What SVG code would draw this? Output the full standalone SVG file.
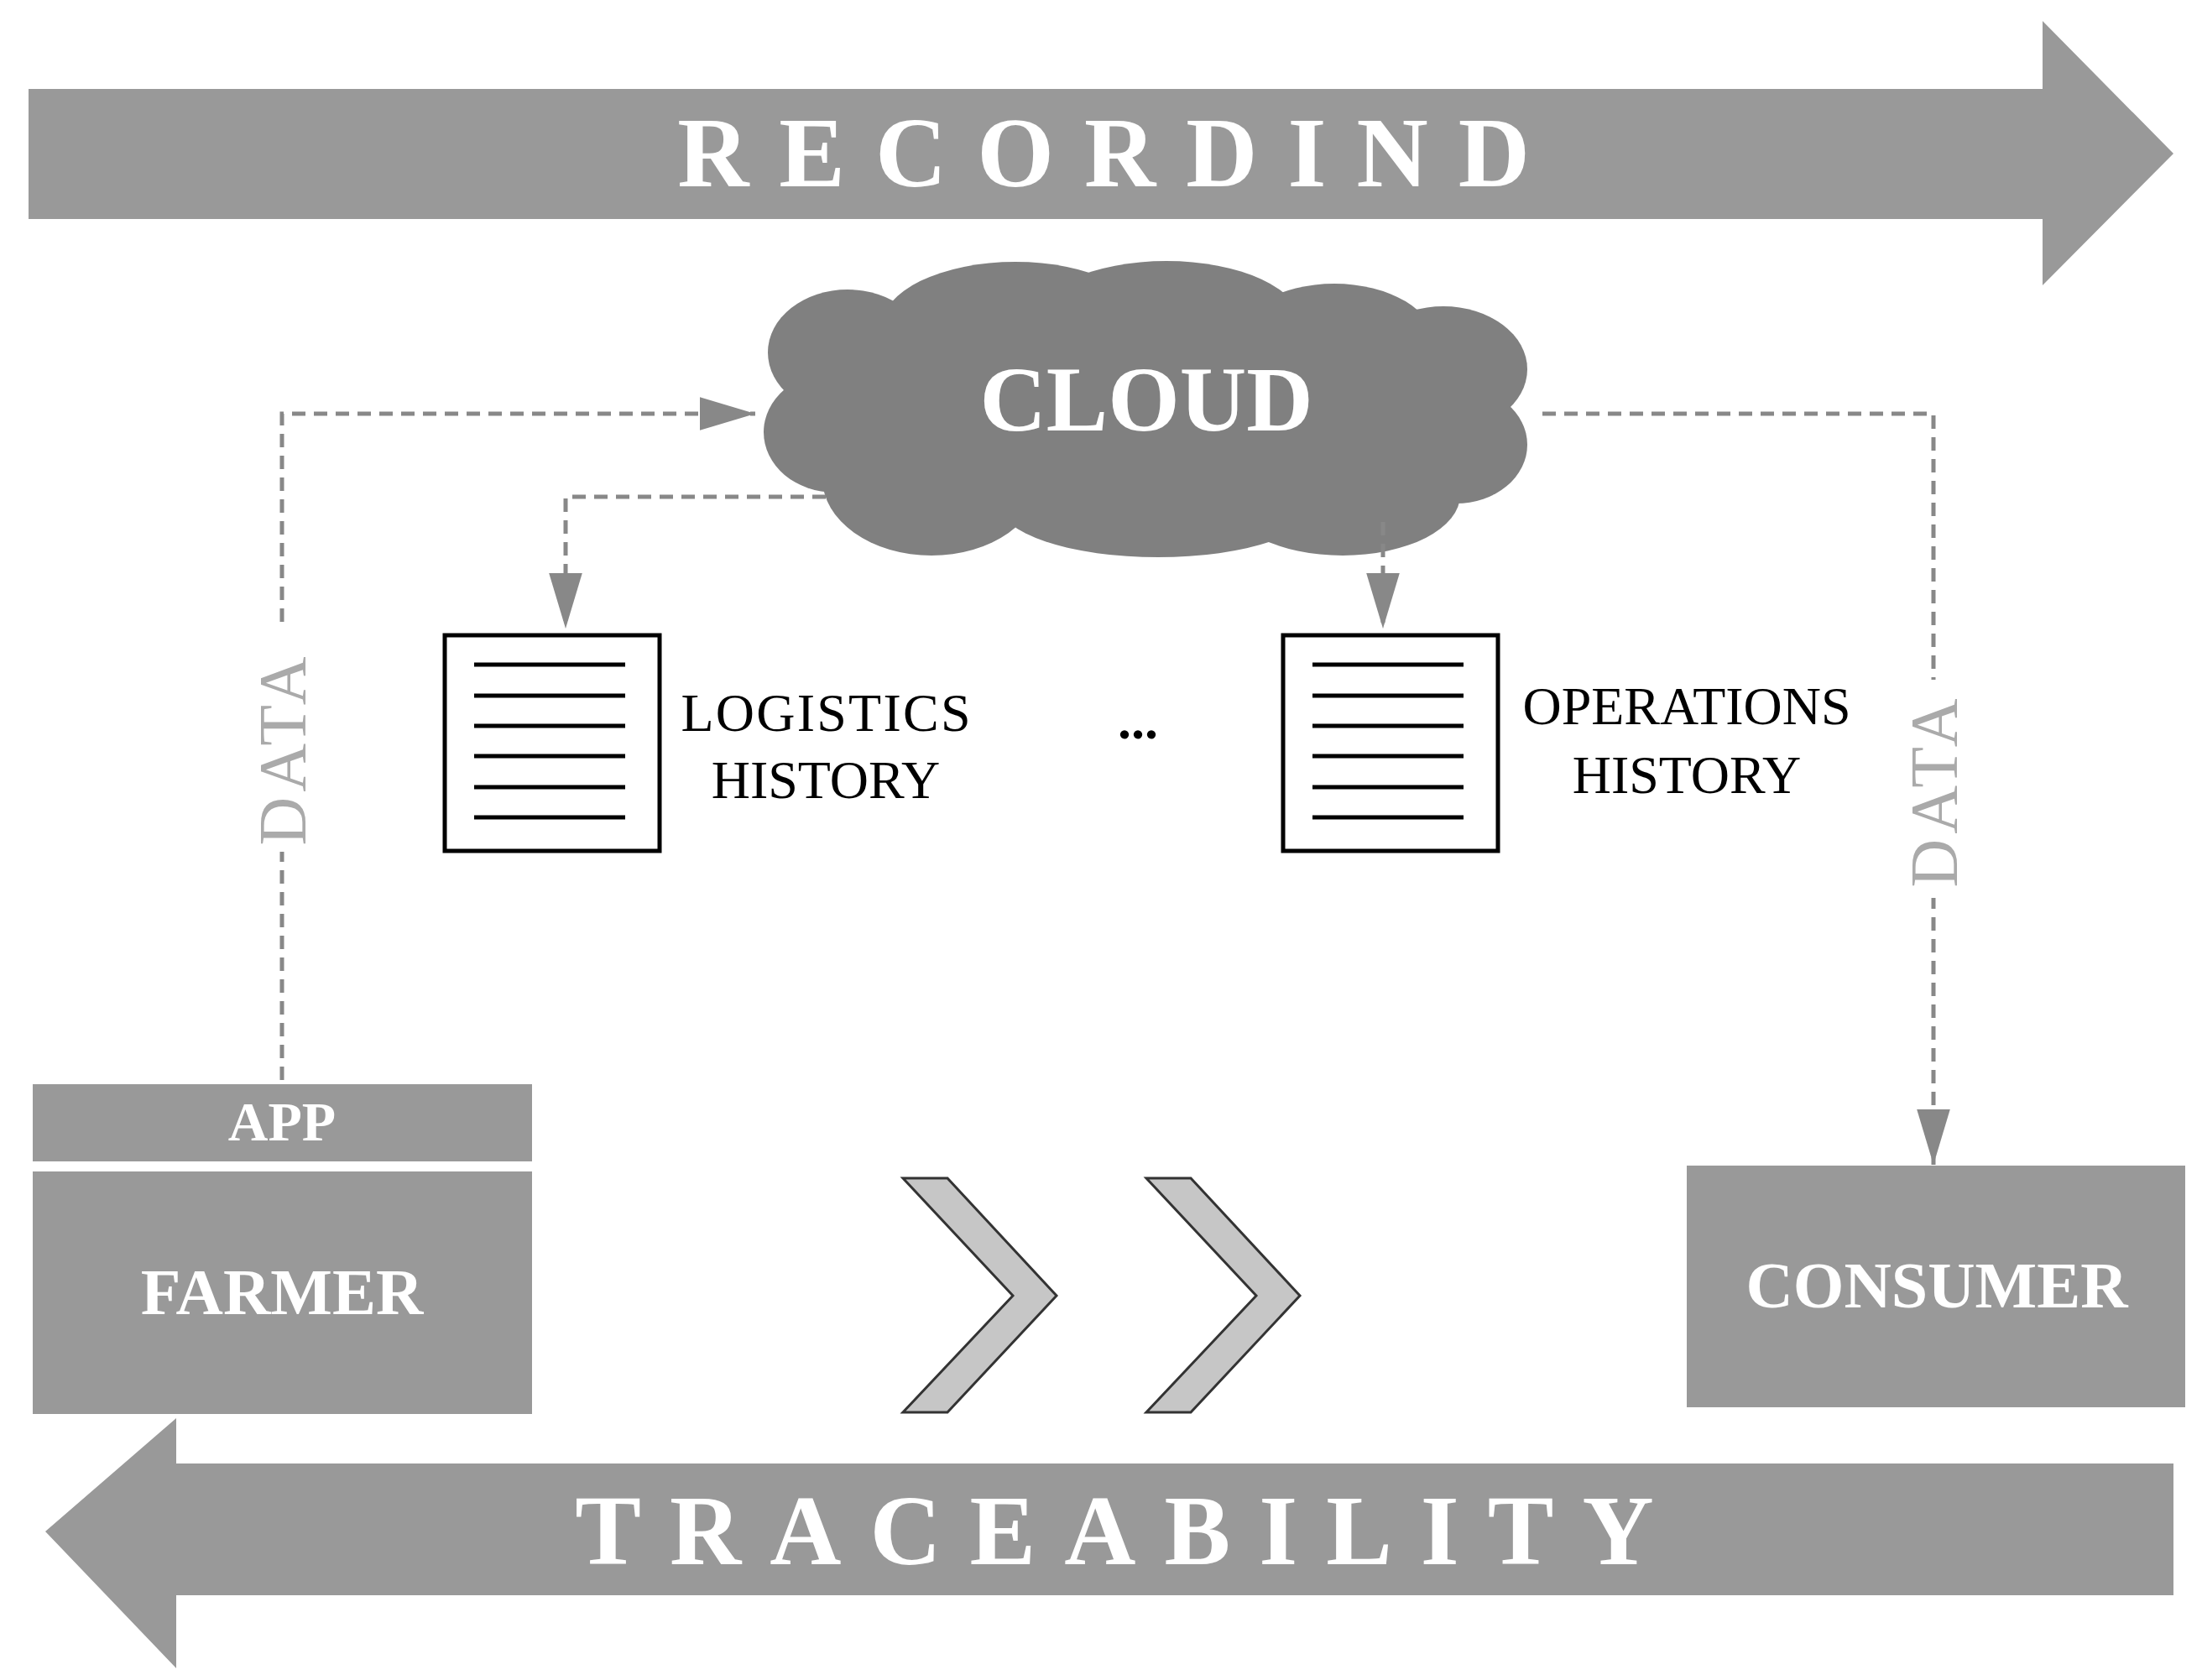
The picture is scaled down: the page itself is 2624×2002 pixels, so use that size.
<svg xmlns="http://www.w3.org/2000/svg" width="2624" height="2002" viewBox="0 0 2624 2002">
<defs>
<style>
.bar{fill:#999}
.wt{fill:#fff;font-family:"Liberation Serif",serif;font-weight:bold;text-anchor:middle}
.bk{fill:#000;font-family:"Liberation Serif",serif;text-anchor:middle;font-size:64px}
.dl{fill:none;stroke:#888;stroke-width:5;stroke-dasharray:16,10}
.data{fill:#aaa;font-family:"Liberation Serif",serif;font-size:80px;text-anchor:middle;letter-spacing:6px}
.doc{fill:#fff;stroke:#000;stroke-width:5}
.ln{stroke:#000;stroke-width:5}
.chev{fill:#c6c6c6;stroke:#333;stroke-width:3}
</style>
<marker id="a2" viewBox="0 0 10 10" refX="10" refY="5" markerWidth="66" markerHeight="66" markerUnits="userSpaceOnUse" orient="auto">
<path d="M0,2 L10,5 L0,8 Z" fill="#888"/>
</marker>
</defs>
<rect width="2624" height="2002" fill="#fff"/>
<g id="recording">
<path class="bar" d="M34,106 H2434 V25 L2590,183 L2434,340 V261 H34 Z"/>
<text class="wt" x="1333" y="222" font-size="118" letter-spacing="36">RECORDIND</text>
</g>
<g id="traceability">
<path class="bar" d="M2590,1744 H210 V1690 L54,1825 L210,1988 V1901 H2590 Z"/>
<text class="wt" x="1345" y="1864" font-size="118" letter-spacing="34">TRACEABILITY</text>
</g>
<g id="cloud" fill="#808080">
<ellipse cx="1010" cy="420" rx="95" ry="75"/>
<ellipse cx="995" cy="515" rx="85" ry="72"/>
<ellipse cx="1110" cy="570" rx="130" ry="92"/>
<ellipse cx="1210" cy="390" rx="160" ry="78"/>
<ellipse cx="1390" cy="385" rx="160" ry="74"/>
<ellipse cx="1590" cy="410" rx="120" ry="72"/>
<ellipse cx="1720" cy="440" rx="100" ry="75"/>
<ellipse cx="1735" cy="530" rx="85" ry="70"/>
<ellipse cx="1600" cy="590" rx="140" ry="72"/>
<ellipse cx="1380" cy="600" rx="190" ry="64"/>
<ellipse cx="1360" cy="490" rx="380" ry="130"/>
<text class="wt" x="1366" y="513" font-size="110">CLOUD</text>
</g>
<g id="app">
<rect class="bar" x="39" y="1292" width="595" height="92"/>
<text class="wt" x="336" y="1359" font-size="66">APP</text>
</g>
<g id="farmer">
<rect class="bar" x="39" y="1396" width="595" height="289"/>
<text class="wt" x="336" y="1566" font-size="78">FARMER</text>
</g>
<g id="consumer">
<rect class="bar" x="2010" y="1389" width="594" height="288"/>
<text class="wt" x="2308" y="1558" font-size="78">CONSUMER</text>
</g>
<g id="logistics">
<rect class="doc" x="530" y="757" width="256" height="257"/>
<path class="ln" d="M565,792H745M565,829H745M565,865H745M565,901H745M565,938H745M565,974H745"/>
<text class="bk" x="984" y="871" textLength="345">LOGISTICS</text>
<text class="bk" x="984" y="951">HISTORY</text>
</g>
<g id="operations">
<rect class="doc" x="1529" y="757" width="256" height="257"/>
<path class="ln" d="M1564,792H1744M1564,829H1744M1564,865H1744M1564,901H1744M1564,938H1744M1564,974H1744"/>
<text class="bk" x="2010" y="863">OPERATIONS</text>
<text class="bk" x="2010" y="945">HISTORY</text>
</g>
<g id="ellipsis"><text class="bk" x="1356" y="880" font-size="80" font-weight="bold">...</text></g>
<g id="chevrons">
<path class="chev" d="M1076,1404 H1129 L1259,1544 L1129,1683 H1076 L1207,1544 Z"/>
<path class="chev" d="M1366,1404 H1419 L1549,1544 L1419,1683 H1366 L1497,1544 Z"/>
</g>
<g id="connectors">
<path class="dl" d="M336,1287 V493 H900" marker-end="url(#a2)"/>
<path class="dl" d="M1838,493 H2304 V1388" marker-end="url(#a2)"/>
<path class="dl" d="M984,592 H674 V749" marker-end="url(#a2)"/>
<path class="dl" d="M1648,622 V749" marker-end="url(#a2)"/>
<rect x="316" y="745" width="40" height="270" fill="#fff"/>
<text class="data" transform="translate(364,892) rotate(-90)">DATA</text>
<rect x="2284" y="810" width="40" height="260" fill="#fff"/>
<text class="data" transform="translate(2332,942) rotate(-90)">DATA</text>
</g>
</svg>
